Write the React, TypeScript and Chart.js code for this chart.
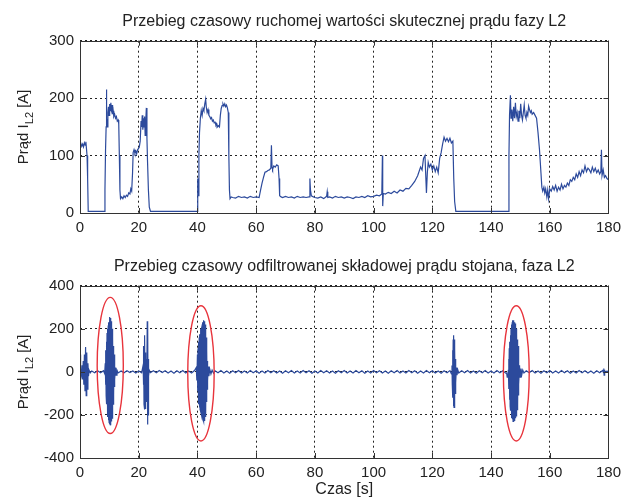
import React, { useEffect, useRef } from "react";
import { Chart, registerables } from "chart.js";

Chart.register(...registerables);

// ---------------- DATA ----------------
const topTitle = "Przebieg czasowy ruchomej wartości skutecznej prądu fazy L2";
const bottomTitle = "Przebieg czasowy odfiltrowanej składowej prądu stojana, faza L2";
const xAxisTitle = "Czas [s]";
const yLabelMain = "Prąd I";
const yLabelSub = "L2";
const yLabelTail = " [A]";

const xTicks = [0, 20, 40, 60, 80, 100, 120, 140, 160, 180];
const topYTicks = [0, 100, 200, 300];
const bottomYTicks = [-400, -200, 0, 200, 400];

// RMS current, phase L2: time [s] and value [A]
const rmsTime = [
  0, 0.3, 0.6, 0.9, 1.2, 1.5, 1.8, 2.0, 2.2, 2.4, 2.6, 2.8,
  3.5, 5, 7, 8.3,
  8.5, 8.7, 8.9, 9.0, 9.1, 9.3, 9.5, 9.7, 9.9, 10.1, 10.3, 10.5, 10.7, 10.9, 11.1, 11.3, 11.5, 11.8, 12.1, 12.4, 12.7, 13.0, 13.2, 13.4, 13.6, 13.8,
  14.2, 14.6, 15, 15.4, 15.8, 16.2, 16.6, 17, 17.3, 17.6, 17.9, 18.1, 18.4, 18.7, 19, 19.3, 19.6, 19.9, 20.2, 20.5, 20.8, 21.0, 21.2, 21.4, 21.6, 21.8, 22.0, 22.2, 22.4, 22.6, 22.8, 23.0, 23.3, 23.6, 24,
  30, 35, 39.9,
  40.1, 40.3, 40.5, 40.7, 41.0, 41.3, 41.6, 41.9, 42.2, 42.5, 42.8, 43.0, 43.3, 43.6, 43.9, 44.2, 44.5, 44.8, 45.1, 45.4, 45.7, 46.0, 46.3, 46.6, 46.9, 47.2, 47.5, 47.8, 48.1, 48.4, 48.7, 49.0, 49.3, 49.6, 49.9, 50.2, 50.5, 50.7, 50.9, 51.1,
  51.5, 52, 53, 54, 55, 56, 57, 58, 59, 60, 61,
  61.5, 62, 62.5, 63, 63.5, 64, 64.5, 65, 65.2, 65.4, 65.6, 66, 66.5, 67, 67.5, 67.8, 68, 68.5,
  69, 70, 71, 72, 73, 74, 75, 76, 77, 78, 78.3, 78.5, 78.8, 79.5, 80, 81, 82, 83, 84, 84.2, 84.4, 85, 86, 87, 88, 89, 90, 91, 92, 93, 94, 95, 96, 97, 98, 99, 100, 101, 102, 102.8, 103, 103.1, 103.3,
  104, 105, 106, 107, 108, 109, 110, 111, 112, 113, 114, 115, 116, 116.5, 117, 117.5, 117.8, 118, 118.3, 118.6, 119, 119.5, 120, 120.5, 121, 121.5, 122, 122.5, 123, 123.5, 124, 124.5, 125, 125.5, 126, 126.5, 127, 127.3, 127.6, 128,
  135, 140, 145.8,
  146.1, 146.3, 146.6, 146.8, 147.1, 147.4, 147.7, 148, 148.3, 148.6, 148.9, 149.2, 149.5, 149.8, 150.1, 150.4, 150.7, 151, 151.3, 151.6, 151.9, 152.2, 152.5, 152.8, 153.1, 153.4, 153.7, 154, 154.5, 155, 155.5, 156, 156.5, 157, 157.3, 157.6,
  158, 158.3, 158.6, 159, 159.3, 159.6, 160, 160.5, 161, 161.5, 162, 162.5, 163, 163.5, 164, 164.5, 165, 165.5, 166, 166.5, 167, 167.5, 168, 168.5, 169, 169.5, 170, 170.5, 171, 171.5, 172, 172.5, 173, 173.5, 174, 174.5, 175, 175.5, 176, 176.5, 177, 177.4, 177.6, 177.8, 178.2, 178.6, 179, 179.5, 180,
];
const rmsCurrent = [
  118, 121, 116, 120, 115, 122, 118, 124, 112, 100, 60, 3,
  3, 3, 3, 3,
  40, 110, 150, 215, 165, 150, 175, 185, 170, 190, 178, 192, 180, 188, 172, 178, 168, 172, 165, 168, 160, 162, 155, 100, 40, 25,
  28, 25, 30, 27, 31, 29, 35, 33, 42, 38, 70, 105, 110, 104, 108, 103, 110, 112, 115, 125, 160, 150, 170, 145, 165, 150, 168, 135, 160, 183, 130, 90, 40, 10, 3,
  3, 3, 3,
  60, 30, 100, 140, 165, 178, 170, 182, 178, 190, 198, 185, 175, 180, 170, 168, 164, 166, 160, 162, 157, 158, 153, 155, 150, 152, 150, 170, 182, 187, 190, 186, 190, 185, 188, 183, 175, 100, 40, 25,
  28, 27, 26, 29, 27, 28, 26, 29, 27, 28, 27,
  40, 52, 62, 71, 72, 74, 75, 78, 118, 80, 76, 82, 80, 84, 82, 60, 30, 28,
  27, 29, 27, 28, 26, 29, 27, 28, 27, 28, 60, 40, 30, 28, 27, 26, 28, 25, 29, 37, 27, 28, 26, 29, 27, 28, 26, 28, 27, 25, 28, 27, 29, 27, 30, 28, 29, 31, 30, 33, 100, 12, 34,
  33, 36, 34, 38, 35, 40, 38, 43, 42, 48, 55, 65, 80, 75, 95, 100, 60, 35, 70, 88, 80, 85, 75, 82, 72, 80, 70, 95, 105, 120, 132, 125, 130, 124, 130, 122, 125, 60, 20, 3,
  3, 3, 3,
  100, 170, 205, 165, 180, 160, 185, 165, 192, 168, 175, 160, 178, 165, 190, 170, 162, 175, 188, 170, 165, 175, 170, 186, 180, 175, 178, 172, 175, 170, 165, 140, 110, 70, 45, 38,
  45, 35, 42, 28, 40, 25, 42, 38, 46, 40, 48, 38, 45, 40, 50, 42, 48, 45, 52, 48, 58, 55, 62, 58, 68, 62, 72, 65, 75, 70, 82, 72, 78, 75, 70, 80, 72, 78, 70, 75, 68, 72, 110, 65, 75, 62, 65, 60, 58,
];

// Filtered stator current component, phase L2: time [s] and value [A]
const filtTime = [
  0, 0.1, 0.2, 0.3, 0.5, 0.7, 0.9, 1.1, 1.3, 1.5, 1.7, 1.9, 2.1, 2.3, 2.5, 2.7, 2.9, 3.1, 3.5, 4, 5, 6, 7, 8, 8.4,
  8.6, 8.7, 8.8, 8.9, 9.0, 9.1, 9.2, 9.3, 9.4, 9.5, 9.6, 9.7, 9.8, 9.9, 10.0, 10.1, 10.2, 10.3, 10.4, 10.5, 10.6, 10.7, 10.8, 10.9, 11.0, 11.1, 11.2, 11.3, 11.4, 11.5, 11.6, 11.7, 11.8, 11.9, 12.1, 12.3, 12.6,
  13, 14, 15, 16, 17, 18, 19, 20, 21,
  21.5, 21.6, 21.7, 21.8, 21.9, 22.0, 22.1, 22.2, 22.3, 22.4, 22.5, 22.6, 22.7, 22.8, 22.9, 23.0, 23.1, 23.2, 23.3, 23.4, 23.6,
  24, 25, 26, 27, 28, 29, 30, 31, 32, 33, 34, 35, 36, 37, 38, 39,
  39.6, 39.8, 40.0, 40.1, 40.2, 40.3, 40.4, 40.5, 40.6, 40.7, 40.8, 40.9, 41.0, 41.1, 41.2, 41.3, 41.4, 41.5, 41.6, 41.7, 41.8, 41.9, 42.0, 42.1, 42.2, 42.3, 42.4, 42.5, 42.6, 42.7, 42.8, 42.9, 43.0, 43.1, 43.2, 43.3, 43.4, 43.5, 43.7, 43.9, 44.2, 44.6, 45, 45.5,
  46, 47, 48, 49, 50, 51, 52, 53, 54, 55, 56, 57, 58, 59, 60, 61, 62, 63, 64, 65, 66, 67, 68, 69, 70, 71, 72, 73, 74, 75, 76, 77, 78, 79, 80, 81, 82, 83, 84, 85, 86, 87, 88, 89, 90, 91, 92, 93, 94, 95, 96, 97, 98, 99, 100, 101, 102, 103, 104, 105, 106, 107, 108, 109, 110, 111, 112, 113, 114, 115, 116, 117, 118, 119, 120, 121, 122, 123, 124, 125, 126,
  126.5, 126.7, 126.8, 126.9, 127.0, 127.1, 127.2, 127.3, 127.4, 127.5, 127.6, 127.7, 127.8, 127.9, 128.0, 128.2, 128.4, 128.7, 129,
  130, 131, 132, 133, 134, 135, 136, 137, 138, 139, 140, 141, 142, 143, 144, 145, 145.3, 145.5, 145.7, 145.9,
  146.0, 146.1, 146.2, 146.3, 146.4, 146.5, 146.6, 146.7, 146.8, 146.9, 147.0, 147.1, 147.2, 147.3, 147.4, 147.5, 147.6, 147.7, 147.8, 147.9, 148.0, 148.1, 148.2, 148.3, 148.4, 148.5, 148.6, 148.7, 148.8, 148.9, 149.0, 149.1, 149.2, 149.3, 149.4, 149.5, 149.7, 149.9, 150.2, 150.5, 150.8, 151.2,
  152, 153, 154, 155, 156, 157, 158, 159, 160, 161, 162, 163, 164, 165, 166, 167, 168, 169, 170, 171, 172, 173, 174, 175, 176, 177, 178, 178.3, 178.4, 178.5, 178.6, 178.8, 179.5, 180,
];
const filtCurrent = [
  0, 80, -20, 10, -15, 30, -35, 50, -60, 80, -90, 115, -110, 90, -80, 40, -20, 8, -5, 4, -4, 5, -4, 5, -8,
  40, -60, 100, -110, 140, -150, 180, -190, 200, -210, 215, -225, 230, -235, 245, -240, 255, -245, 250, -240, 235, -230, 220, -215, 200, -190, 160, -150, 120, -110, 80, -70, 40, -35, 20, -15, 8,
  -5, 4, -4, 5, -3, 4, -5, 4, -4,
  30, -60, 120, -150, 170, -175, 160, -170, 90, -60, 30, -20, 60, -140, 235, -245, 220, -200, 60, -20, 8,
  -4, 5, -4, 6, -3, 5, -5, 4, -6, 5, -4, 6, -5, 4, -5, 6,
  20, -40, 80, -90, 110, -120, 140, -150, 160, -165, 175, -175, 180, -185, 200, -195, 210, -205, 220, -215, 230, -220, 235, -230, 240, -225, 235, -220, 220, -210, 200, -190, 160, -140, 100, -80, 50, -40, 25, -20, 12, -10, 8, -6,
  5, -4, 6, -5, 4, -6, 5, -4, 6, -5, 4, -5, 6, -4, 5, -6, 4, -5, 6, -4, 5, -5, 4, -6, 5, -4, 6, -5, 4, -5, 6, -4, 5, -6, 4, -5, 6, -4, 5, -5, 4, -6, 5, -4, 6, -5, 4, -5, 6, -4, 5, -6, 4, -5, 6, -4, 5, -5, 4, -6, 5, -4, 6, -5, 4, -5, 6, -4, 5, -6, 4, -5, 6, -4, 5, -5, 4, -6, 5, -4, 6,
  -10, 30, -60, 100, -120, 150, -160, 170, -165, 150, -140, 110, -100, 60, -50, 20, -15, 8, -5,
  5, -4, 6, -5, 4, -6, 5, -4, 6, -5, 4, -5, 6, -4, 5, -6, -5, -25, -20, 10,
  60, -80, 110, -130, 140, -160, 170, -180, 200, -200, 220, -215, 230, -220, 240, -230, 235, -225, 240, -225, 230, -220, 225, -215, 210, -205, 200, -195, 180, -175, 150, -160, 120, -110, 70, -60, 30, -25, 15, -12, 8, -5,
  5, -4, 6, -5, 4, -6, 5, -4, 6, -5, 4, -5, 6, -4, 5, -6, 4, -5, 6, -4, 5, -5, 4, -6, 5, -4, 6, -4, 15, -15, 10, -5, 4, -3,
];

// Highlighted bursts (red ellipses): centre time, centre value, half-width [s], half-height [A]
const burstCentreTime = [10.3, 41.2, 148.6];
const burstCentreValue = [30, -7, -7];
const burstHalfWidth = [4.45, 4.5, 4.4];
const burstHalfHeight = [316, 314, 314];

// ---------------- STYLE ----------------
const FONT = "'Liberation Sans', Arial, sans-serif";
const TEXT = "#222";
const LINE = "#2c4a9c";

const boxPlugin = {
  id: "matlabBox",
  afterDatasetsDraw(chart: any) {
    const { ctx, chartArea: a, scales } = chart;
    ctx.save();
    ctx.strokeStyle = "#333";
    ctx.lineWidth = 1;
    ctx.setLineDash([]);
    ctx.beginPath();
    const tl = 5;
    for (const v of scales.x.ticks.map((t: any) => t.value)) {
      const px = Math.round(scales.x.getPixelForValue(v)) + 0.5;
      ctx.moveTo(px, a.bottom);
      ctx.lineTo(px, a.bottom - tl);
      ctx.moveTo(px, a.top);
      ctx.lineTo(px, a.top + tl);
    }
    for (const v of scales.y.ticks.map((t: any) => t.value)) {
      const py = Math.round(scales.y.getPixelForValue(v)) + 0.5;
      ctx.moveTo(a.left, py);
      ctx.lineTo(a.left + tl, py);
      ctx.moveTo(a.right, py);
      ctx.lineTo(a.right - tl, py);
    }
    ctx.stroke();
    ctx.strokeRect(Math.round(a.left) + 0.5, Math.round(a.top) + 0.5, Math.round(a.right - a.left), Math.round(a.bottom - a.top));
    ctx.restore();
  },
  afterDraw(chart: any) {
    const { ctx, chartArea: a } = chart;
    ctx.save();
    const cy = (a.top + a.bottom) / 2;
    const cx = 24;
    ctx.translate(cx, cy);
    ctx.rotate(-Math.PI / 2);
    ctx.fillStyle = TEXT;
    ctx.textBaseline = "middle";
    ctx.textAlign = "left";
    const mainFont = `15px ${FONT}`;
    const subFont = `11px ${FONT}`;
    ctx.font = mainFont;
    const w1 = ctx.measureText(yLabelMain).width;
    const w3 = ctx.measureText(yLabelTail).width;
    ctx.font = subFont;
    const w2 = ctx.measureText(yLabelSub).width;
    let x = -(w1 + w2 + w3) / 2;
    ctx.font = mainFont;
    ctx.fillText(yLabelMain, x, 0);
    x += w1;
    ctx.font = subFont;
    ctx.fillText(yLabelSub, x, 6);
    x += w2;
    ctx.font = mainFont;
    ctx.fillText(yLabelTail, x, 0);
    ctx.restore();
  },
};

const ellipsePlugin = {
  id: "burstEllipses",
  afterDatasetsDraw(chart: any, _args: any, opts: any) {
    if (!opts || !opts.enabled) return;
    const { ctx, scales } = chart;
    ctx.save();
    ctx.strokeStyle = "#e8343c";
    ctx.lineWidth = 1.4;
    for (let i = 0; i < burstCentreTime.length; i++) {
      const cx = scales.x.getPixelForValue(burstCentreTime[i]);
      const cy = scales.y.getPixelForValue(burstCentreValue[i]);
      const rx = Math.abs(scales.x.getPixelForValue(burstCentreTime[i] + burstHalfWidth[i]) - cx);
      const ry = Math.abs(scales.y.getPixelForValue(burstCentreValue[i] + burstHalfHeight[i]) - cy);
      ctx.beginPath();
      ctx.ellipse(cx, cy, rx, ry, 0, 0, Math.PI * 2);
      ctx.stroke();
    }
    ctx.restore();
  },
};

function makeConfig(
  title: string,
  time: number[],
  values: number[],
  yMin: number,
  yMax: number,
  yTicks: number[],
  withXTitle: boolean,
  axisHeight: number,
  ellipses: boolean
): any {
  return {
    type: "line",
    data: {
      datasets: [
        {
          data: time.map((t, i) => ({ x: t, y: values[i] })),
          borderColor: LINE,
          borderWidth: 1.2,
          pointRadius: 0,
          tension: 0,
          fill: false,
        },
      ],
    },
    options: {
      animation: false,
      responsive: false,
      maintainAspectRatio: false,
      layout: { padding: { left: 0, right: 13, top: 0, bottom: 0 } },
      plugins: {
        legend: { display: false },
        tooltip: { enabled: false },
        title: {
          display: true,
          fullSize: false,
          text: title,
          color: TEXT,
          font: { family: FONT, size: 16, weight: "normal" },
          padding: { top: 12, bottom: 9.5 },
        },
        burstEllipses: { enabled: ellipses },
      },
      scales: {
        x: {
          type: "linear",
          min: 0,
          max: 180,
          afterBuildTicks: (axis: any) => {
            axis.ticks = xTicks.map((v) => ({ value: v }));
          },
          afterFit: (axis: any) => {
            axis.height = axisHeight;
          },
          grid: {
            color: "#222",
            lineWidth: 1,
            drawTicks: false,
          },
          border: { display: false, dash: [2, 3] },
          ticks: {
            color: TEXT,
            font: { family: FONT, size: 15 },
            padding: 6,
            maxRotation: 0,
          },
          title: {
            display: withXTitle,
            text: xAxisTitle,
            color: TEXT,
            font: { family: FONT, size: 16 },
            padding: { top: 0, bottom: 0 },
          },
        },
        y: {
          type: "linear",
          min: yMin,
          max: yMax,
          afterBuildTicks: (axis: any) => {
            axis.ticks = yTicks.map((v) => ({ value: v }));
          },
          afterFit: (axis: any) => {
            axis.width = 80;
          },
          grid: {
            color: "#222",
            lineWidth: 1,
            drawTicks: false,
          },
          border: { display: false, dash: [2, 3] },
          ticks: {
            color: TEXT,
            font: { family: FONT, size: 15 },
            padding: 6,
          },
        },
      },
    },
    plugins: [boxPlugin, ellipsePlugin],
  };
}

function applyDash(cfg: any) {
  cfg.options.scales.x.grid.borderDash = [2, 3];
  cfg.options.scales.y.grid.borderDash = [2, 3];
  cfg.options.scales.x.border.dash = [2, 3];
  cfg.options.scales.y.border.dash = [2, 3];
  return cfg;
}

export default function App() {
  const topRef = useRef<HTMLCanvasElement>(null);
  const bottomRef = useRef<HTMLCanvasElement>(null);

  useEffect(() => {
    const top = new Chart(
      topRef.current!,
      applyDash(makeConfig(topTitle, rmsTime, rmsCurrent, 0, 300, topYTicks, false, 32, false))
    );
    const bottom = new Chart(
      bottomRef.current!,
      applyDash(makeConfig(bottomTitle, filtTime, filtCurrent, -400, 400, bottomYTicks, true, 41, true))
    );
    return () => {
      top.destroy();
      bottom.destroy();
    };
  }, []);

  return (
    <div style={{ position: "fixed", left: 0, top: 0, width: 627, height: 499, background: "#fff" }}>
      <canvas ref={topRef} width={627} height={245} style={{ position: "absolute", left: 0, top: 0, width: 627, height: 245 }} />
      <canvas ref={bottomRef} width={627} height={254} style={{ position: "absolute", left: 0, top: 245, width: 627, height: 254 }} />
    </div>
  );
}
